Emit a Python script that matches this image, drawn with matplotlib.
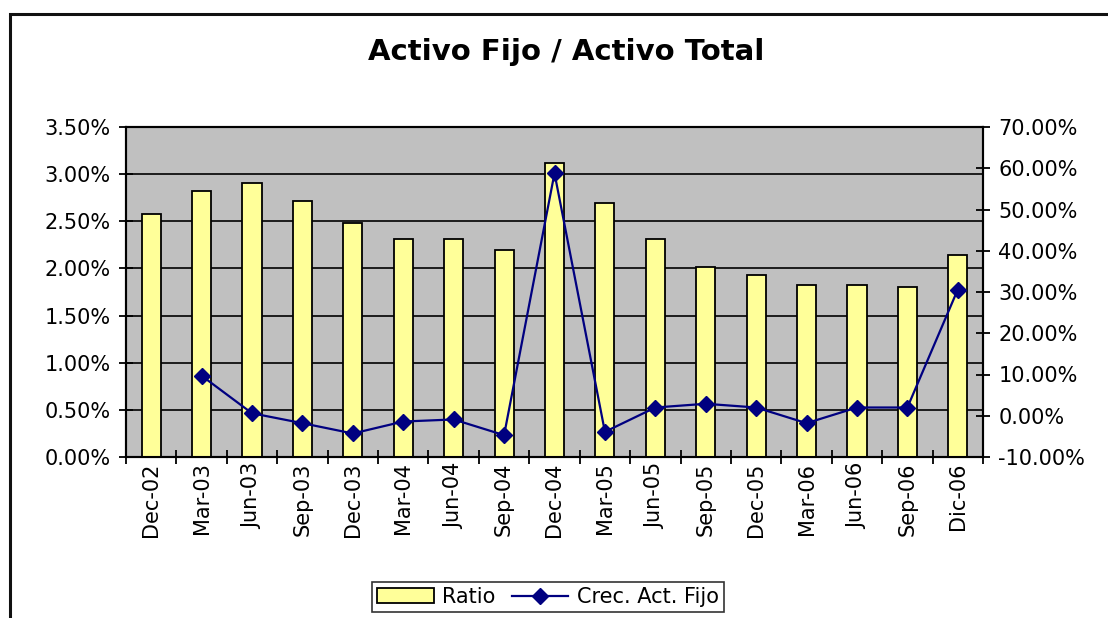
import numpy as np
import matplotlib
matplotlib.use("Agg")
import matplotlib.pyplot as plt
from matplotlib.patches import Rectangle
from matplotlib.ticker import FuncFormatter, MultipleLocator

# ── Data ──────────────────────────────────────────────────────────────────────
periods = ["Dec-02", "Mar-03", "Jun-03", "Sep-03", "Dec-03", "Mar-04", "Jun-04",
           "Sep-04", "Dec-04", "Mar-05", "Jun-05", "Sep-05", "Dec-05", "Mar-06",
           "Jun-06", "Sep-06", "Dic-06"]
ratio = [2.58, 2.82, 2.91, 2.71, 2.48, 2.31, 2.31, 2.20, 3.12, 2.69, 2.31,
         2.02, 1.93, 1.82, 1.82, 1.80, 2.14]          # % (left axis)
crec = [np.nan, 9.7, 0.6, -1.8, -4.3, -1.4, -0.9, -4.7, 58.8, -3.9, 2.0,
        2.9, 2.0, -1.8, 2.0, 2.0, 30.6]               # % (right axis)

W, H = 1108, 618
FS = 15
fig = plt.figure(figsize=(W / 100, H / 100), dpi=100)
fig.patch.set_facecolor("white")

# outer chart frame (runs off right and bottom edges)
fig.add_artist(Rectangle((10 / W, -0.05), 1.1, 1 - 14 / H + 0.05,
                         transform=fig.transFigure, fill=False,
                         edgecolor="#111111", linewidth=2.2))

ax = fig.add_axes([126 / W, 1 - 457 / H, (983 - 126) / W, (457 - 127) / H])
ax.set_facecolor("#c0c0c0")
x = np.arange(len(periods))

ax.bar(x, ratio, width=0.38, color="#ffff99", edgecolor="black",
       linewidth=1.3, zorder=3, label="Ratio")
ax.set_xlim(-0.5, len(periods) - 0.5)
ax.set_ylim(0, 3.5)
ax.yaxis.set_major_locator(MultipleLocator(0.5))
ax.yaxis.set_major_formatter(FuncFormatter(lambda v, _: f"{v:.2f}%"))
ax.grid(axis="y", color="black", linewidth=1.2, zorder=1)
ax.set_axisbelow(True)

ax.set_xticks(np.arange(len(periods) + 1) - 0.5)
ax.set_xticklabels([])
ax.set_xticks(x, minor=True)
ax.set_xticklabels(periods, minor=True, rotation=90, fontsize=FS)
ax.tick_params(axis="x", which="minor", length=0, pad=4)
ax.tick_params(axis="x", which="major", direction="inout", length=10, width=1.3)
ax.tick_params(axis="y", direction="inout", length=10, width=1.3,
               labelsize=FS, pad=6)

ax2 = ax.twinx()
ax2.plot(x, crec, color="#000080", linewidth=1.6, marker="D", markersize=8,
         markerfacecolor="#000080", markeredgecolor="#000080", zorder=4,
         label="Crec. Act. Fijo")
ax2.set_ylim(-10, 70)
ax2.yaxis.set_major_locator(MultipleLocator(10))
ax2.yaxis.set_major_formatter(FuncFormatter(lambda v, _: f"{v:.2f}%"))
ax2.tick_params(axis="y", direction="inout", length=10, width=1.3,
                labelsize=FS, pad=6)

for a in (ax, ax2):
    for s in a.spines.values():
        s.set_linewidth(1.5)
        s.set_color("black")

fig.text(566 / W, 1 - 52 / H, "Activo Fijo / Activo Total", ha="center",
         va="center", fontsize=21, fontweight="bold")

h1, l1 = ax.get_legend_handles_labels()
h2, l2 = ax2.get_legend_handles_labels()
leg = fig.legend(h1 + h2, l1 + l2, loc="center", ncol=2,
                 bbox_to_anchor=(548 / W, 1 - 597 / H), fontsize=FS,
                 frameon=True, fancybox=False, edgecolor="black",
                 handlelength=2.7, handletextpad=0.4, columnspacing=0.8,
                 borderpad=0.25)
leg.get_frame().set_linewidth(1.2)

fig.savefig("out.png", dpi=100)
